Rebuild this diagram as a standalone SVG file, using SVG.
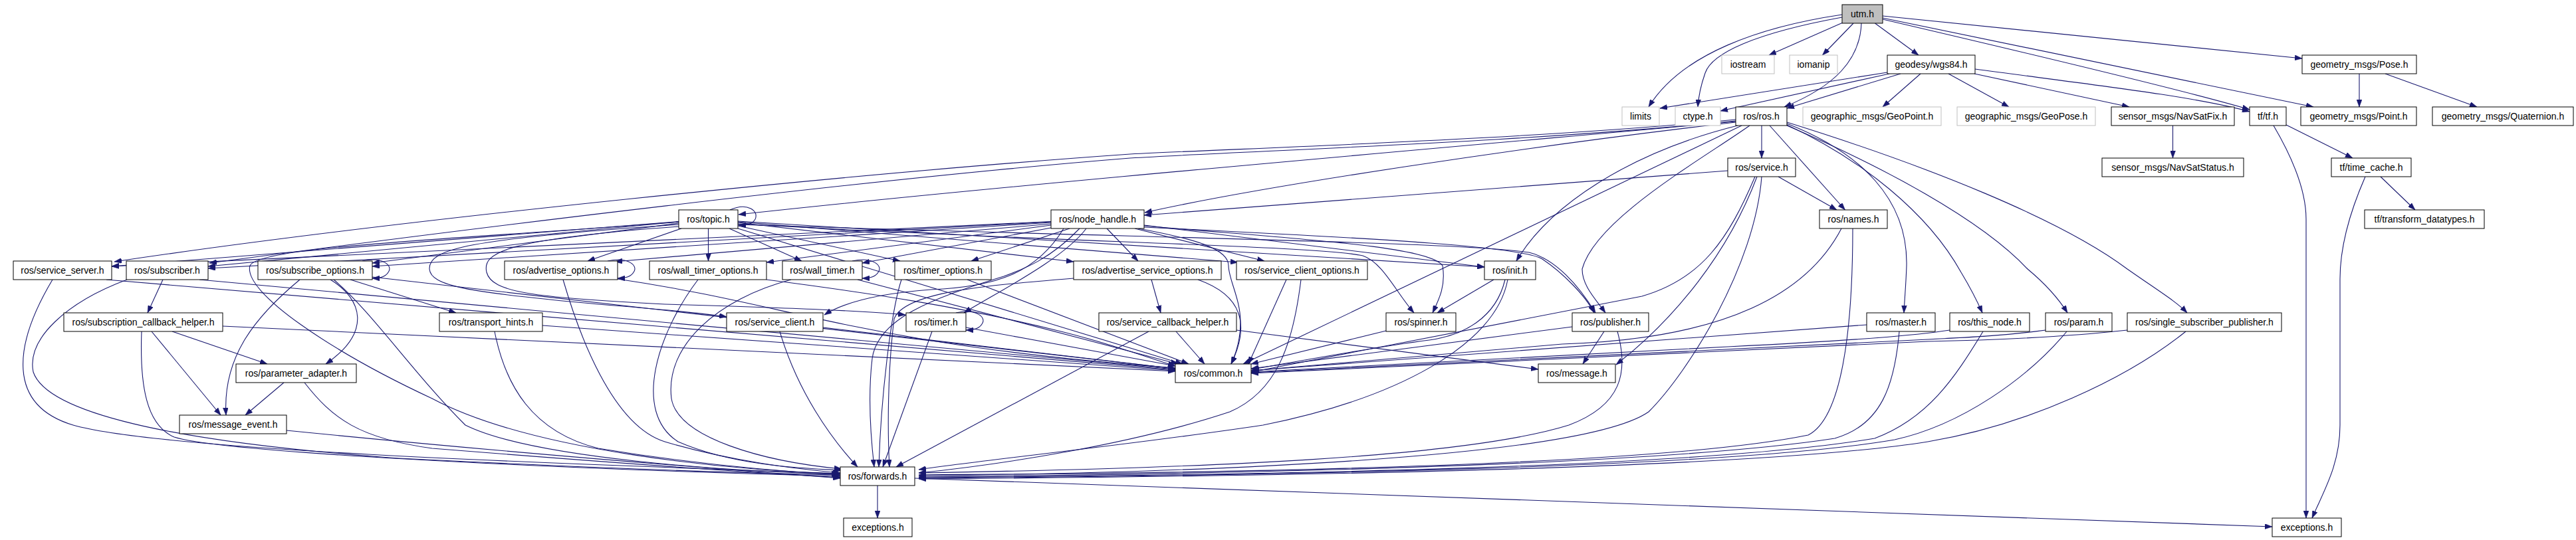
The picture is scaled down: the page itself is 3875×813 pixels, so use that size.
<svg xmlns="http://www.w3.org/2000/svg" width="3875" height="813" viewBox="0 0 3875 813">
<style>
.node rect{fill:#fff;stroke:#000;stroke-width:1}
.node.ext rect{stroke:#bfbfbf}
.node.root rect{fill:#bfbfbf}
.node text{font-family:"Liberation Sans",Arial,sans-serif;font-size:14px;text-anchor:middle;fill:#000}
#edges path{fill:none;stroke:#191970;stroke-width:1.1;marker-end:url(#arr)}
</style>
<defs>
<marker id="arr" markerUnits="userSpaceOnUse" markerWidth="11" markerHeight="8" refX="11" refY="4" orient="auto">
<path d="M0,0 L11,4 L0,8 z" fill="#191970" stroke="#191970" stroke-width="0.5"/>
</marker>
</defs>
<rect x="0" y="0" width="3875" height="813" fill="#fff"/>
<g id="edges">
<path d="M2771,34.5 L2661,83"/>
<path d="M2788,35 L2741.5,83"/>
<path d="M2820.5,35 L2886,83"/>
<path d="M2800,35 C2798,90 2760,130 2684,161"/>
<path d="M2771,22 C2650,40 2530,80 2480,161"/>
<path d="M2771,26 C2640,50 2575,80 2565,110 C2558,130 2555,145 2554,161"/>
<path d="M2832,24 L3463,88"/>
<path d="M2832,27 L3480,161"/>
<path d="M2832,29 C3050,80 3300,140 3384,165"/>
<path d="M2839,109 L2497,163"/>
<path d="M2842,111 L2588,167"/>
<path d="M2859,111 L2688,163"/>
<path d="M2889,111 L2832,161"/>
<path d="M2931,111 L3022,161"/>
<path d="M2970,111 L3203,161"/>
<path d="M2971,104 C3150,128 3300,145 3384,168"/>
<path d="M3549,111 L3549,161"/>
<path d="M3588,111 L3726,161"/>
<path d="M3268.5,189 L3268.5,238"/>
<path d="M3439,188 L3539,238"/>
<path d="M3420,189 C3450,240 3469,290 3469,330 L3469,780"/>
<path d="M3581,266 L3633,316"/>
<path d="M3558,266 C3530,330 3520,380 3520,420 L3520,640 C3520,700 3495,740 3478,780"/>
<path d="M2650,189 L2650,238"/>
<path d="M2662,189 L2775.5,316"/>
<path d="M2688,186 C2800,230 2870,300 2868,400 C2867,430 2865,450 2864,471"/>
<path d="M2688,188 C2800,240 2900,320 2950,410 C2965,435 2975,455 2982,471"/>
<path d="M2688,189 C2830,250 2980,330 3050,405 C3080,430 3100,455 3110,471"/>
<path d="M2688,184 C2900,250 3100,330 3200,405 C3250,440 3275,455 3290,471"/>
<path d="M2611,180 C2300,210 1900,222 1700,232 C1300,260 600,330 172,394"/>
<path d="M2611,182 C2300,214 1900,226 1700,238 C1300,270 700,345 315,396"/>
<path d="M2611,183 C2200,220 1500,280 1111,323"/>
<path d="M2611,184 C2300,220 1900,280 1722,320"/>
<path d="M2614,189 C2450,230 2330,310 2281,393"/>
<path d="M2632,189 C2560,240 2400,330 2380,405 C2380,430 2400,450 2415,471"/>
<path d="M2620,189 L1870,548"/>
<path d="M2599,257 L1721,324"/>
<path d="M2675,266 L2763,316"/>
<path d="M2643,266 C2600,380 2520,480 2431,549"/>
<path d="M2640,266 C2600,360 2560,420 2470,446 L1883,560"/>
<path d="M2650,266 C2640,400 2540,560 2480,620 C2380,690 1800,712 1382,716"/>
<path d="M2770,344 C2720,440 2600,510 2350,518 L1883,558"/>
<path d="M2787,344 C2787,500 2770,630 2720,655 C2500,700 1900,712 1382,715"/>
<path d="M2808,489 L1882,558"/>
<path d="M2857,499 C2850,580 2830,640 2760,660 C2500,700 1900,713 1382,718"/>
<path d="M2933,497 C2880,505 2800,512 2600,522 L1882,560"/>
<path d="M2983,499 C2940,570 2900,630 2820,660 C2550,705 1900,715 1382,719"/>
<path d="M3077,497 C3020,505 2960,508 2900,511 L1882,561"/>
<path d="M3109,499 C3050,570 2950,640 2850,662 C2600,705 1900,716 1382,720"/>
<path d="M3200,497 C3100,508 3000,512 2900,514 L1882,562"/>
<path d="M3288,499 C3200,570 3050,640 2900,665 C2650,705 1950,717 1382,721"/>
<path d="M2247,421 L2162,471"/>
<path d="M2264,421 C2250,480 2200,505 2150,512 C2050,525 1950,545 1883,556"/>
<path d="M2268,421 C2250,520 2100,600 1900,640 C1700,670 1500,690 1382,707"/>
<path d="M2413,499 L2381,548"/>
<path d="M2365,492 L1882,555"/>
<path d="M2433,499 C2450,560 2440,610 2360,640 C2200,690 1800,705 1382,712"/>
<path d="M2085,498 L1882,548"/>
<path d="M1860,497 L2314,556"/>
<path d="M1769,499 L1812,548"/>
<path d="M1728,499 L1348,703"/>
<path d="M1732,421 L1746,471"/>
<path d="M1802,421 C1870,445 1880,490 1852,548"/>
<path d="M1615,419 C1480,430 1360,440 1345,480 C1335,560 1335,650 1338,703"/>
<path d="M1935,421 L1878,548"/>
<path d="M1957,421 C1945,520 1920,590 1850,620 C1700,670 1500,700 1382,712"/>
<path d="M1455,421 L1788,548"/>
<path d="M1356,421 C1340,470 1325,600 1322,703"/>
<path d="M1453,493 L1768,551"/>
<path d="M1402,499 L1328,703"/>
<path d="M1438,471 C1468,464 1485,478 1477,488 C1473,495 1465,497 1453,497"/>
<path d="M1238,493 L1768,555"/>
<path d="M1173,499 C1200,590 1250,660 1290,703"/>
<path d="M1290,421 L1772,548"/>
<path d="M1190,421 C1080,450 1000,520 1010,600 C1020,660 1150,695 1266,706"/>
<path d="M1282,393 C1312,386 1329,400 1321,410 C1317,417 1309,419 1297,419"/>
<path d="M1153,421 C1300,440 1450,462 1600,500 C1680,520 1730,540 1768,551"/>
<path d="M1050,421 C990,500 950,620 1020,665 C1100,700 1200,705 1266,708"/>
<path d="M929,420 C1200,460 1300,520 1768,554"/>
<path d="M847,421 C870,500 920,640 1000,665 C1100,695 1200,706 1264,712"/>
<path d="M914,393 C944,386 961,400 953,410 C949,417 941,419 929,419"/>
<path d="M816,490 L1768,558"/>
<path d="M744,499 C760,580 800,650 900,675 C1050,700 1180,710 1263,715"/>
<path d="M335,491 L1768,559"/>
<path d="M213,499 C210,580 220,640 262,658 C330,680 800,705 1264,717"/>
<path d="M228,499 L332,625"/>
<path d="M259,499 L402,548"/>
<path d="M427,576 L369,625"/>
<path d="M458,576 C500,630 540,660 650,675 C900,695 1100,710 1264,719"/>
<path d="M431,648 C700,675 1000,700 1264,720"/>
<path d="M451,421 C380,480 335,540 340,625"/>
<path d="M497,421 C545,450 560,500 490,548"/>
<path d="M527,421 L686,471"/>
<path d="M560,417 L1768,555"/>
<path d="M502,421 C560,470 620,560 700,640 C800,690 1100,710 1262,714"/>
<path d="M545,393 C575,386 592,400 584,410 C580,417 572,419 560,419"/>
<path d="M245,421 L222,471"/>
<path d="M300,421 L1768,556"/>
<path d="M191,421 C100,455 40,510 50,560 C70,620 250,665 600,690 C900,705 1100,712 1264,715"/>
<path d="M160,421 L1768,557"/>
<path d="M79,421 C20,520 10,610 110,640 C250,680 900,700 1264,713"/>
<path d="M1021,333.5 L168,401"/>
<path d="M1021,334 L313,401"/>
<path d="M1021,336 L560,396"/>
<path d="M1025,344 L884,393"/>
<path d="M1065.5,344 L1065.5,393"/>
<path d="M1097,344 L1206,393"/>
<path d="M1110,340 L1354,393"/>
<path d="M1110,335 L1615,394"/>
<path d="M1110,334 L1862,395"/>
<path d="M1110,333 L2233,402"/>
<path d="M1110,337 C1600,365 1980,370 2050,385 C2080,395 2100,440 2127,471"/>
<path d="M1110,338 C1800,360 2200,365 2300,380 C2340,390 2375,430 2400,471"/>
<path d="M1021,338 C700,360 645,375 646,405 C648,430 700,440 900,458 C1000,466 1060,472 1093,477"/>
<path d="M1021,341 C760,360 725,380 732,410 C740,440 800,448 1000,458 C1200,464 1300,468 1362,474"/>
<path d="M1021,334 C700,360 390,370 376,400 C365,440 500,530 650,600 C800,680 1100,708 1262,713"/>
<path d="M1110,344 L1779,548"/>
<path d="M1098,316 C1125,304 1142,318 1136,330 C1132,337 1126,339 1111,339"/>
<path d="M1581,333.5 L168,401"/>
<path d="M1581,334 L313,404"/>
<path d="M1581,335 L560,401"/>
<path d="M1581,337 L925,394"/>
<path d="M1581,339 L1153,395"/>
<path d="M1581,343 L1297,396"/>
<path d="M1609,344 L1461,393"/>
<path d="M1665,344 L1712,393"/>
<path d="M1707,344 L1902,393"/>
<path d="M1721,339 L2233,402"/>
<path d="M1721,340 C1950,360 2150,370 2170,400 C2175,430 2165,450 2155,471"/>
<path d="M1721,342 C2100,360 2290,372 2320,390 C2350,410 2385,445 2398,471"/>
<path d="M1600,344 C1560,410 1500,432 1400,436 C1320,442 1270,455 1240,474"/>
<path d="M1634,344 C1600,390 1500,440 1450,471"/>
<path d="M1624,344 C1580,390 1540,405 1510,416 C1400,450 1320,480 1312,540 C1305,600 1310,660 1315,703"/>
<path d="M1712,344 C1800,360 1848,375 1848,400 C1848,420 1866,450 1866,485 C1866,515 1858,535 1852,548"/>
<path d="M1320,731 L1320,780"/>
<path d="M1376,720 L3418,793"/>
</g>
<g id="n-utm" class="node root"><rect x="2771" y="7" width="61" height="28"/><text x="2801.5" y="26">utm.h</text></g>
<g id="n-iostream" class="node ext"><rect x="2590" y="83" width="79" height="28"/><text x="2629.5" y="102">iostream</text></g>
<g id="n-iomanip" class="node ext"><rect x="2692" y="83" width="72" height="28"/><text x="2728" y="102">iomanip</text></g>
<g id="n-wgs84" class="node"><rect x="2839" y="83" width="132" height="28"/><text x="2905" y="102">geodesy/wgs84.h</text></g>
<g id="n-pose" class="node"><rect x="3463" y="83" width="172" height="28"/><text x="3549" y="102">geometry_msgs/Pose.h</text></g>
<g id="n-limits" class="node ext"><rect x="2440" y="161" width="56" height="28"/><text x="2468" y="180">limits</text></g>
<g id="n-ctype" class="node ext"><rect x="2520" y="161" width="68" height="28"/><text x="2554" y="180">ctype.h</text></g>
<g id="n-ros" class="node"><rect x="2611" y="161" width="77" height="28"/><text x="2649.5" y="180">ros/ros.h</text></g>
<g id="n-geopoint" class="node ext"><rect x="2712" y="161" width="208" height="28"/><text x="2816" y="180">geographic_msgs/GeoPoint.h</text></g>
<g id="n-geopose" class="node ext"><rect x="2944" y="161" width="208" height="28"/><text x="3048" y="180">geographic_msgs/GeoPose.h</text></g>
<g id="n-navsatfix" class="node"><rect x="3176" y="161" width="185" height="28"/><text x="3268.5" y="180">sensor_msgs/NavSatFix.h</text></g>
<g id="n-tf" class="node"><rect x="3384" y="161" width="55" height="28"/><text x="3411.5" y="180">tf/tf.h</text></g>
<g id="n-point" class="node"><rect x="3461" y="161" width="174" height="28"/><text x="3548" y="180">geometry_msgs/Point.h</text></g>
<g id="n-quat" class="node"><rect x="3659" y="161" width="212" height="28"/><text x="3765" y="180">geometry_msgs/Quaternion.h</text></g>
<g id="n-service" class="node"><rect x="2599" y="238" width="102" height="28"/><text x="2650" y="257">ros/service.h</text></g>
<g id="n-navsatstatus" class="node"><rect x="3162" y="238" width="213" height="28"/><text x="3268.5" y="257">sensor_msgs/NavSatStatus.h</text></g>
<g id="n-timecache" class="node"><rect x="3507" y="238" width="120" height="28"/><text x="3567" y="257">tf/time_cache.h</text></g>
<g id="n-topic" class="node"><rect x="1021" y="316" width="89" height="28"/><text x="1065.5" y="335">ros/topic.h</text></g>
<g id="n-nodehandle" class="node"><rect x="1581" y="316" width="140" height="28"/><text x="1651" y="335">ros/node_handle.h</text></g>
<g id="n-names" class="node"><rect x="2737" y="316" width="102" height="28"/><text x="2788" y="335">ros/names.h</text></g>
<g id="n-transform" class="node"><rect x="3557" y="316" width="180" height="28"/><text x="3647" y="335">tf/transform_datatypes.h</text></g>
<g id="n-serviceserver" class="node"><rect x="20" y="393" width="148" height="28"/><text x="94" y="412">ros/service_server.h</text></g>
<g id="n-subscriber" class="node"><rect x="190" y="393" width="123" height="28"/><text x="251.5" y="412">ros/subscriber.h</text></g>
<g id="n-subscribeoptions" class="node"><rect x="388" y="393" width="172" height="28"/><text x="474" y="412">ros/subscribe_options.h</text></g>
<g id="n-advertiseoptions" class="node"><rect x="759" y="393" width="170" height="28"/><text x="844" y="412">ros/advertise_options.h</text></g>
<g id="n-walltimeroptions" class="node"><rect x="977" y="393" width="176" height="28"/><text x="1065" y="412">ros/wall_timer_options.h</text></g>
<g id="n-walltimer" class="node"><rect x="1177" y="393" width="120" height="28"/><text x="1237" y="412">ros/wall_timer.h</text></g>
<g id="n-timeroptions" class="node"><rect x="1346" y="393" width="145" height="28"/><text x="1418.5" y="412">ros/timer_options.h</text></g>
<g id="n-advsrvoptions" class="node"><rect x="1615" y="393" width="222" height="28"/><text x="1726" y="412">ros/advertise_service_options.h</text></g>
<g id="n-srvclientoptions" class="node"><rect x="1860" y="393" width="197" height="28"/><text x="1958.5" y="412">ros/service_client_options.h</text></g>
<g id="n-init" class="node"><rect x="2233" y="393" width="77" height="28"/><text x="2271.5" y="412">ros/init.h</text></g>
<g id="n-subcbhelper" class="node"><rect x="96" y="471" width="239" height="28"/><text x="215.5" y="490">ros/subscription_callback_helper.h</text></g>
<g id="n-transporthints" class="node"><rect x="661" y="471" width="155" height="28"/><text x="738.5" y="490">ros/transport_hints.h</text></g>
<g id="n-serviceclient" class="node"><rect x="1093" y="471" width="145" height="28"/><text x="1165.5" y="490">ros/service_client.h</text></g>
<g id="n-timer" class="node"><rect x="1363" y="471" width="90" height="28"/><text x="1408" y="490">ros/timer.h</text></g>
<g id="n-srvcbhelper" class="node"><rect x="1653" y="471" width="207" height="28"/><text x="1756.5" y="490">ros/service_callback_helper.h</text></g>
<g id="n-spinner" class="node"><rect x="2085" y="471" width="105" height="28"/><text x="2137.5" y="490">ros/spinner.h</text></g>
<g id="n-publisher" class="node"><rect x="2365" y="471" width="115" height="28"/><text x="2422.5" y="490">ros/publisher.h</text></g>
<g id="n-master" class="node"><rect x="2808" y="471" width="103" height="28"/><text x="2859.5" y="490">ros/master.h</text></g>
<g id="n-thisnode" class="node"><rect x="2933" y="471" width="120" height="28"/><text x="2993" y="490">ros/this_node.h</text></g>
<g id="n-param" class="node"><rect x="3077" y="471" width="100" height="28"/><text x="3127" y="490">ros/param.h</text></g>
<g id="n-ssp" class="node"><rect x="3200" y="471" width="232" height="28"/><text x="3316" y="490">ros/single_subscriber_publisher.h</text></g>
<g id="n-paramadapter" class="node"><rect x="355" y="548" width="181" height="28"/><text x="445.5" y="567">ros/parameter_adapter.h</text></g>
<g id="n-common" class="node"><rect x="1768" y="548" width="114" height="28"/><text x="1825" y="567">ros/common.h</text></g>
<g id="n-message" class="node"><rect x="2314" y="548" width="116" height="28"/><text x="2372" y="567">ros/message.h</text></g>
<g id="n-messageevent" class="node"><rect x="270" y="625" width="161" height="28"/><text x="350.5" y="644">ros/message_event.h</text></g>
<g id="n-forwards" class="node"><rect x="1264" y="703" width="112" height="28"/><text x="1320" y="722">ros/forwards.h</text></g>
<g id="n-exceptions1" class="node"><rect x="1269" y="780" width="103" height="28"/><text x="1320.5" y="799">exceptions.h</text></g>
<g id="n-exceptions2" class="node"><rect x="3418" y="780" width="104" height="28"/><text x="3470" y="799">exceptions.h</text></g>
</svg>
